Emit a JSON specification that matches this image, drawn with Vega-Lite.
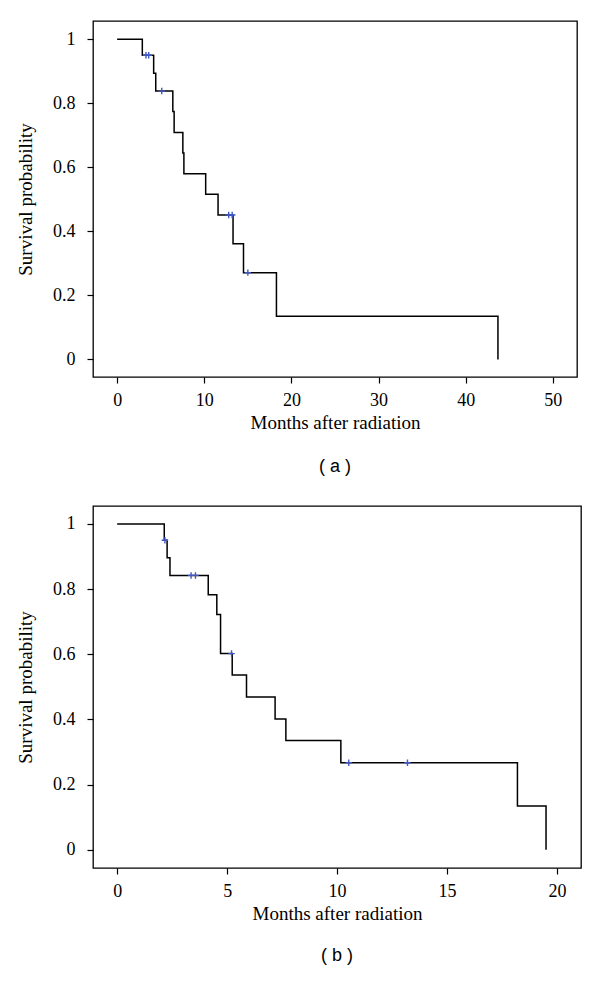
{
  "$schema": "https://vega.github.io/schema/vega-lite/v6.json",
  "background": "white",
  "padding": {"left": 15, "top": 20, "right": 0, "bottom": 5},
  "config": {
    "view": {"stroke": "black", "strokeWidth": 1.3},
    "axis": {"grid": false, "domain": false, "tickColor": "black", "tickSize": 6, "tickWidth": 1.2,
      "labelFont": "Liberation Serif", "labelFontSize": 18, "labelColor": "black",
      "titleFont": "Liberation Serif", "titleFontSize": 19, "titleFontWeight": "normal", "titleColor": "black"},
    "title": {"font": "Liberation Sans", "fontSize": 18, "fontWeight": "normal", "color": "black", "orient": "bottom", "anchor": "middle"},
    "concat": {"spacing": 28}
  },
  "datasets": {
    "a_steps": [
      {"t": 0, "s": 1}, {"t": 2.89, "s": 0.95}, {"t": 4.19, "s": 0.894}, {"t": 4.43, "s": 0.838},
      {"t": 6.39, "s": 0.774}, {"t": 6.54, "s": 0.709}, {"t": 7.54, "s": 0.645}, {"t": 7.66, "s": 0.58},
      {"t": 10.16, "s": 0.516}, {"t": 11.58, "s": 0.451}, {"t": 13.3, "s": 0.361}, {"t": 14.5, "s": 0.271},
      {"t": 18.28, "s": 0.135}, {"t": 43.7, "s": 0}
    ],
    "a_cens": [
      {"t": 3.31, "s": 0.95}, {"t": 3.62, "s": 0.95}, {"t": 5.12, "s": 0.838},
      {"t": 12.8, "s": 0.451}, {"t": 13.2, "s": 0.451}, {"t": 15.0, "s": 0.271}
    ],
    "b_steps": [
      {"t": 0, "s": 1}, {"t": 2.14, "s": 0.95}, {"t": 2.27, "s": 0.896}, {"t": 2.4, "s": 0.842},
      {"t": 4.14, "s": 0.783}, {"t": 4.53, "s": 0.722}, {"t": 4.7, "s": 0.602}, {"t": 5.23, "s": 0.536},
      {"t": 5.88, "s": 0.469}, {"t": 7.18, "s": 0.401}, {"t": 7.67, "s": 0.335}, {"t": 10.17, "s": 0.267},
      {"t": 18.2, "s": 0.134}, {"t": 19.5, "s": 0}
    ],
    "b_cens": [
      {"t": 2.17, "s": 0.95}, {"t": 3.36, "s": 0.842}, {"t": 3.56, "s": 0.842}, {"t": 5.2, "s": 0.602},
      {"t": 10.53, "s": 0.267}, {"t": 13.2, "s": 0.267}
    ]
  },
  "vconcat": [
    {
      "width": 484, "height": 356,
      "title": {"text": "( a )", "orient": "bottom", "offset": 26},
      "encoding": {
        "x": {"field": "t", "type": "quantitative", "scale": {"domain": [-2.77, 52.77], "nice": false, "zero": false},
          "axis": {"values": [0, 10, 20, 30, 40, 50], "title": "Months after radiation", "labelPadding": 8, "titlePadding": 4}},
        "y": {"field": "s", "type": "quantitative", "scale": {"domain": [-0.055, 1.057], "nice": false, "zero": false},
          "axis": {"values": [0, 0.2, 0.4, 0.6, 0.8, 1], "format": "~g", "title": "Survival probability", "labelPadding": 12, "titlePadding": 17}}
      },
      "layer": [
        {"data": {"name": "a_steps"}, "mark": {"type": "line", "interpolate": "step-after", "color": "black", "strokeWidth": 1.5}},
        {"data": {"name": "a_cens"}, "mark": {"type": "point", "shape": "M-1,0L1,0M0,-1L0,1", "filled": false, "color": "#3f57c4", "size": 42, "strokeWidth": 1.4, "opacity": 1}}
      ]
    },
    {
      "width": 488, "height": 362,
      "title": {"text": "( b )", "orient": "bottom", "offset": 24},
      "encoding": {
        "x": {"field": "t", "type": "quantitative", "scale": {"domain": [-1.1, 21.09], "nice": false, "zero": false},
          "axis": {"values": [0, 5, 10, 15, 20], "title": "Months after radiation", "labelPadding": 8, "titlePadding": 4}},
        "y": {"field": "s", "type": "quantitative", "scale": {"domain": [-0.056, 1.055], "nice": false, "zero": false},
          "axis": {"values": [0, 0.2, 0.4, 0.6, 0.8, 1], "format": "~g", "title": "Survival probability", "labelPadding": 12, "titlePadding": 17}}
      },
      "layer": [
        {"data": {"name": "b_steps"}, "mark": {"type": "line", "interpolate": "step-after", "color": "black", "strokeWidth": 1.5}},
        {"data": {"name": "b_cens"}, "mark": {"type": "point", "shape": "M-1,0L1,0M0,-1L0,1", "filled": false, "color": "#3f57c4", "size": 42, "strokeWidth": 1.4, "opacity": 1}}
      ]
    }
  ]
}
